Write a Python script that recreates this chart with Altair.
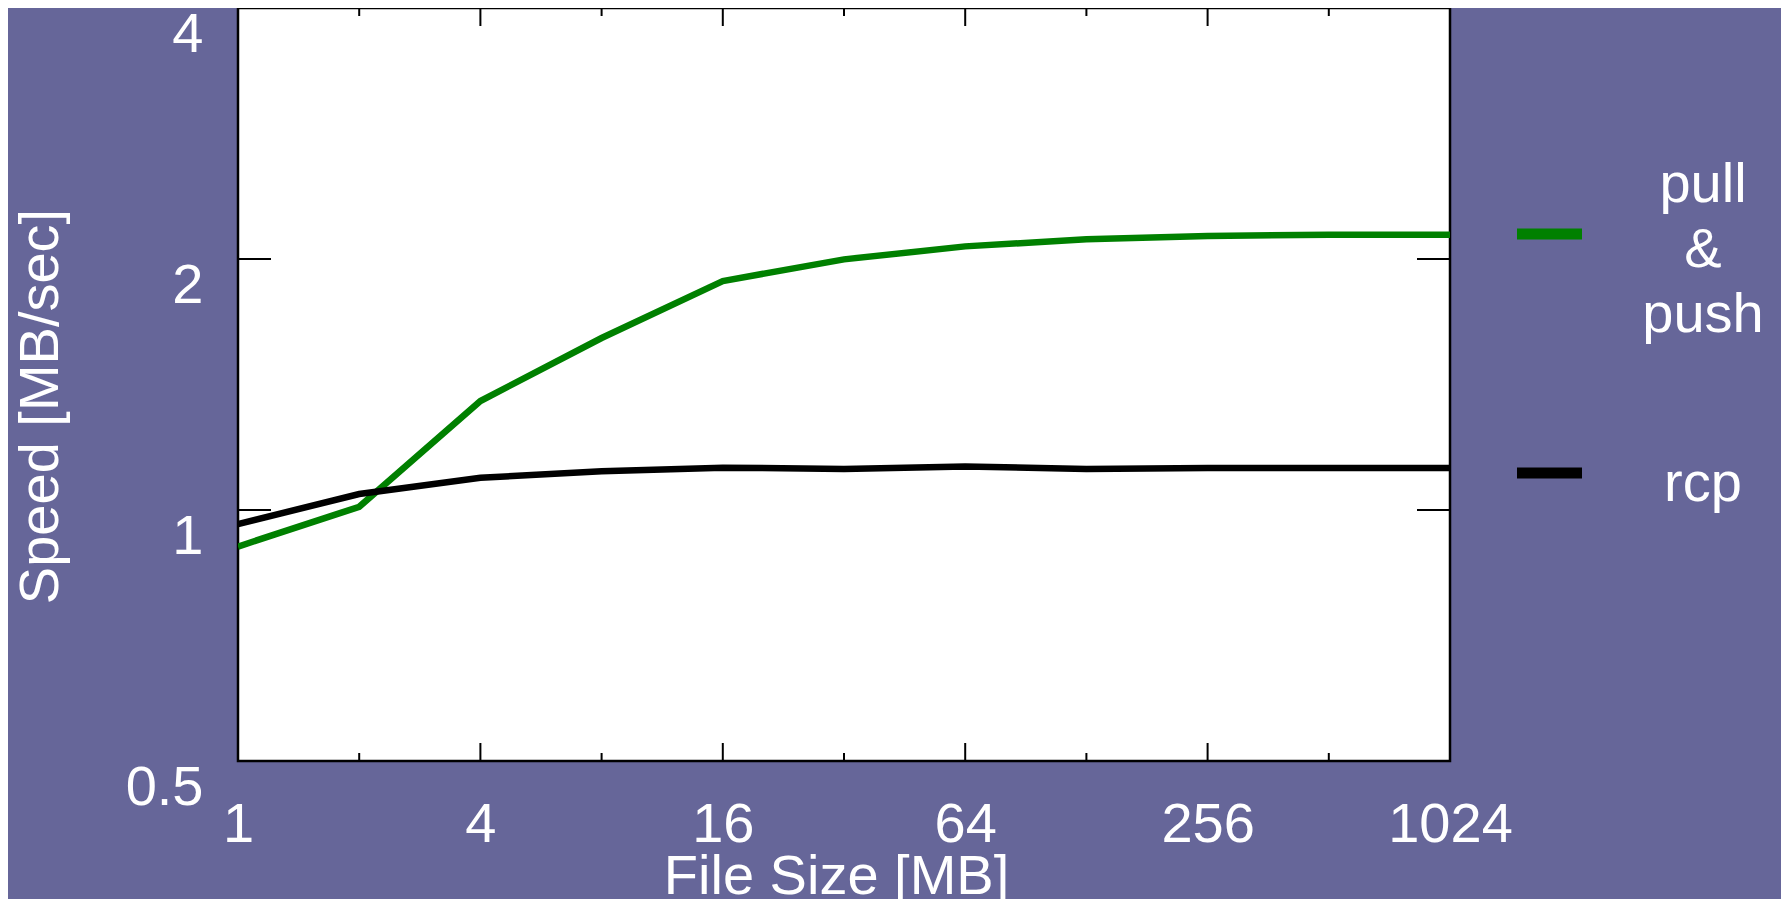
import altair as alt
import pandas as pd

# ---- data ----
file_sizes = [1, 2, 4, 8, 16, 32, 64, 128, 256, 512, 1024]
pull_push = [0.904, 1.009, 1.351, 1.608, 1.882, 1.998, 2.071, 2.112, 2.131, 2.139, 2.139]
rcp = [0.962, 1.045, 1.093, 1.113, 1.124, 1.120, 1.128, 1.120, 1.123, 1.123, 1.123]

series_names = ["pull & push", "rcp"]
series_colors = ["#008000", "#000000"]
legend_labels = ["pull\n&\npush", "rcp"]

x_ticks_labels = [1, 4, 16, 64, 256, 1024]
x_major_ticks = [4, 16, 64, 256]
x_minor_ticks = [2, 8, 32, 128, 512]
y_tick_labels = [0.5, 1, 2, 4]
y_inner_ticks = [1, 2]

W, H = 1212, 753
BG = "#666699"
FONT = "Liberation Sans"

rows = []
for s, vals in zip(series_names, [pull_push, rcp]):
    for x, v in zip(file_sizes, vals):
        rows.append({"size": x, "speed": v, "series": s})
df = pd.DataFrame(rows)

xscale = alt.Scale(type="log", base=2, domain=[1, 1024], nice=False)
yscale = alt.Scale(type="log", base=2, domain=[0.5, 4], nice=False)
cscale = alt.Scale(domain=series_names, range=series_colors)

xaxis = alt.Axis(
    values=x_ticks_labels, title="File Size [MB]", format="d",
    ticks=False, tickSize=0, domain=False, grid=False,
    labelFontSize=56, labelFont=FONT, labelColor="white", labelFlush=False,
    labelBaseline="alphabetic", labelPadding=80, labelAlign="center",
    titleFontSize=56, titleFont=FONT, titleColor="white", titleFontWeight="normal",
    titleBaseline="alphabetic", titleY=132, titleX=W / 2 - 8,
)
yaxis = alt.Axis(
    values=y_tick_labels, title="Speed [MB/sec]",
    ticks=False, tickSize=0, domain=False, grid=False,
    labelFontSize=56, labelFont=FONT, labelColor="white", labelFlush=False,
    labelBaseline="alphabetic", labelOffset=43, labelPadding=35, labelAlign="right",
    labelExpr="datum.value == 0.5 ? '0.5' : format(datum.value, 'd')",
    titleFontSize=56, titleFont=FONT, titleColor="white", titleFontWeight="normal",
    titleAngle=-90, titleAlign="center", titleBaseline="middle",
    titleX=-198, titleY=398,
)

lines = alt.Chart(df).mark_line(strokeWidth=6.5, clip=True, strokeJoin="miter").encode(
    x=alt.X("size:Q", scale=xscale, axis=xaxis),
    y=alt.Y("speed:Q", scale=yscale, axis=yaxis),
    color=alt.Color("series:N", scale=cscale, legend=None),
    detail="series:N",
)

# inner ticks
def xtick_layer(vals, length, top):
    d = pd.DataFrame({"t": vals})
    if top:
        enc = dict(y=alt.value(0), y2=alt.value(length))
    else:
        enc = dict(y=alt.value(H), y2=alt.value(H - length))
    return alt.Chart(d).mark_rule(color="black", strokeWidth=2).encode(
        x=alt.X("t:Q", scale=xscale), **enc
    )

def ytick_layer(vals, length, right):
    d = pd.DataFrame({"t": vals})
    if right:
        enc = dict(x=alt.value(W), x2=alt.value(W - length))
    else:
        enc = dict(x=alt.value(0), x2=alt.value(length))
    return alt.Chart(d).mark_rule(color="black", strokeWidth=2).encode(
        y=alt.Y("t:Q", scale=yscale), **enc
    )

tick_layers = [
    xtick_layer(x_major_ticks, 18, False), xtick_layer(x_minor_ticks, 8, False),
    xtick_layer(x_major_ticks, 18, True), xtick_layer(x_minor_ticks, 8, True),
    ytick_layer(y_inner_ticks, 33, False), ytick_layer(y_inner_ticks, 33, True),
]

# legend (manual)
leg = pd.DataFrame({"series": series_names, "label": legend_labels})
legend_layers = []
sym_y = [226, 465]
txt_y = [194, 493]
for i, s in enumerate(series_names):
    base = alt.Chart(leg).transform_filter(alt.datum.series == s)
    legend_layers.append(
        base.mark_rule(strokeWidth=11, clip=False).encode(
            x=alt.value(W + 67), x2=alt.value(W + 132), y=alt.value(sym_y[i]),
            color=alt.Color("series:N", scale=cscale, legend=None),
        )
    )
    legend_layers.append(
        base.mark_text(
            font=FONT, fontSize=56, color="white", align="center",
            baseline="alphabetic", lineBreak="\n", lineHeight=65, clip=False,
        ).encode(x=alt.value(W + 253), y=alt.value(txt_y[i]), text="label:N")
    )

chart = alt.layer(lines, *tick_layers, *legend_layers).properties(
    width=W, height=H,
    background=BG,
    padding={"left": 230, "top": 0, "right": 331, "bottom": 138},
    autosize=alt.AutoSizeParams(type="none"),
).configure_view(fill="white", stroke="black", strokeWidth=2.5)

chart.save("out.html", embed_options={"renderer": "svg", "actions": False})
